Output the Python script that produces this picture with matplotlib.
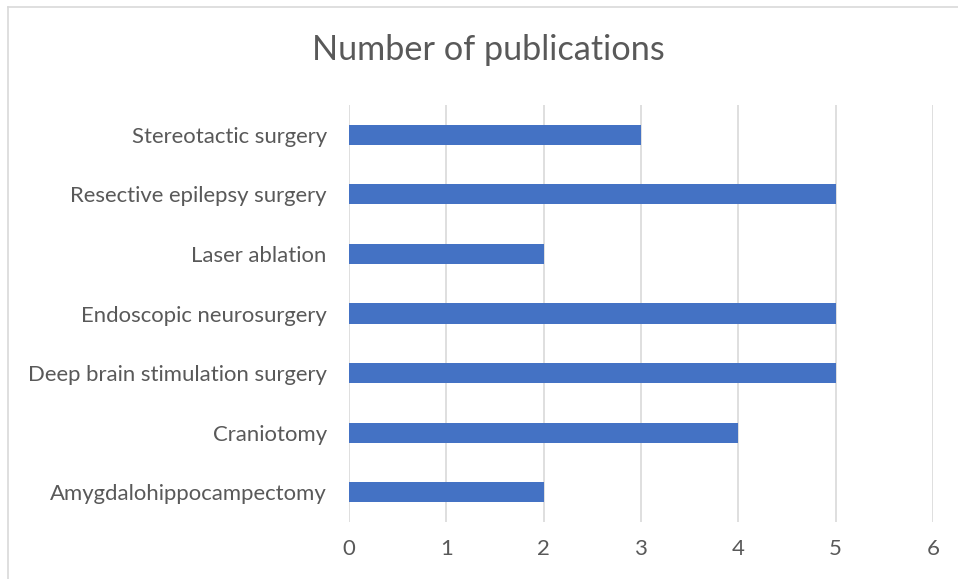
import matplotlib.pyplot as plt
from matplotlib.lines import Line2D

categories = ["Amygdalohippocampectomy", "Craniotomy", "Deep brain stimulation surgery",
              "Endoscopic neurosurgery", "Laser ablation", "Resective epilepsy surgery",
              "Stereotactic surgery"]
counts = [2, 4, 5, 5, 2, 5, 3]
xticks = [0, 1, 2, 3, 4, 5, 6]

plt.rcParams['font.family'] = ['Lato', 'DejaVu Sans']

fig = plt.figure(figsize=(9.58, 5.79), dpi=100, facecolor='w')
ax = fig.add_axes([349/958, 1-522/579, (933-349)/958, (522-105)/579])

ax.barh(range(len(categories)), counts, height=0.34, color='#4472C4', zorder=3)
ax.set_xlim(0, 6)
ax.set_ylim(-0.5, len(categories)-0.5)
ax.set_xticks(xticks)
ax.set_yticks(range(len(categories)))
ax.set_yticklabels(categories)
ax.xaxis.grid(True, color='#D9D9D9', linewidth=1.2, zorder=0)
for s in ax.spines.values():
    s.set_visible(False)
ax.tick_params(axis='both', length=0, labelsize=15.9, colors='#595959')
ax.tick_params(axis='y', pad=16)
ax.tick_params(axis='x', pad=12)

fig.text(488/958, 1-50/579, "Number of publications", ha='center', va='center',
         fontsize=24.7, color='#595959')

# chart frame
fig.add_artist(Line2D([8/958, 8/958], [0, 1-7/579], color='#D9D9D9', lw=1.2))
fig.add_artist(Line2D([8/958, 1], [1-7/579, 1-7/579], color='#D9D9D9', lw=1.2))

fig.savefig('out.png', dpi=100)
